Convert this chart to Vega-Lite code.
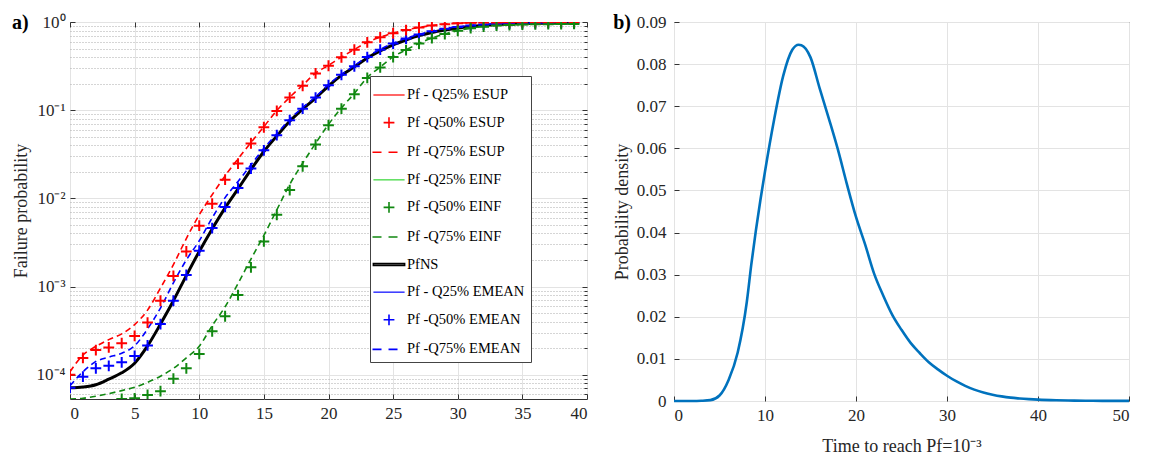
{
  "$schema": "https://vega.github.io/schema/vega-lite/v6.json",
  "padding": {"left": 11, "top": 12, "right": 5, "bottom": 5},
  "spacing": 24,
  "datasets": {
    "curves": [
      {"s":"NS","t":0,"p":7.1e-5},{"s":"NS","t":1,"p":7.25e-5},{"s":"NS","t":2,"p":7.7e-5},{"s":"NS","t":3,"p":8.9e-5},{"s":"NS","t":4,"p":1.05e-4},{"s":"NS","t":5,"p":1.35e-4},{"s":"NS","t":6,"p":2.12e-4},{"s":"NS","t":7,"p":3.75e-4},{"s":"NS","t":8,"p":6.9e-4},{"s":"NS","t":9,"p":1.33e-3},{"s":"NS","t":10,"p":2.5e-3},{"s":"NS","t":11,"p":4.5e-3},{"s":"NS","t":12,"p":7.8e-3},{"s":"NS","t":13,"p":1.28e-2},{"s":"NS","t":14,"p":2.12e-2},{"s":"NS","t":15,"p":3.4e-2},{"s":"NS","t":16,"p":5.1e-2},{"s":"NS","t":17,"p":7.5e-2},{"s":"NS","t":18,"p":0.103},{"s":"NS","t":19,"p":0.137},{"s":"NS","t":20,"p":0.188},{"s":"NS","t":21,"p":0.248},{"s":"NS","t":22,"p":0.31},{"s":"NS","t":23,"p":0.39},{"s":"NS","t":24,"p":0.47},{"s":"NS","t":25,"p":0.55},{"s":"NS","t":26,"p":0.625},{"s":"NS","t":27,"p":0.7},{"s":"NS","t":28,"p":0.76},{"s":"NS","t":29,"p":0.81},{"s":"NS","t":30,"p":0.855},{"s":"NS","t":31,"p":0.89},{"s":"NS","t":32,"p":0.915},{"s":"NS","t":33,"p":0.935},{"s":"NS","t":34,"p":0.95},{"s":"NS","t":35,"p":0.96},{"s":"NS","t":36,"p":0.966},{"s":"NS","t":37,"p":0.97},{"s":"NS","t":38,"p":0.973},{"s":"NS","t":39,"p":0.975},

      {"s":"S25","t":0,"p":7.1e-5},{"s":"S25","t":1,"p":7.25e-5},{"s":"S25","t":2,"p":7.7e-5},{"s":"S25","t":3,"p":8.9e-5},{"s":"S25","t":4,"p":1.05e-4},{"s":"S25","t":5,"p":1.35e-4},{"s":"S25","t":6,"p":2.12e-4},{"s":"S25","t":7,"p":3.75e-4},{"s":"S25","t":8,"p":6.9e-4},{"s":"S25","t":9,"p":1.33e-3},{"s":"S25","t":10,"p":2.5e-3},{"s":"S25","t":11,"p":4.5e-3},{"s":"S25","t":12,"p":7.8e-3},{"s":"S25","t":13,"p":1.28e-2},{"s":"S25","t":14,"p":2.12e-2},{"s":"S25","t":15,"p":3.4e-2},{"s":"S25","t":16,"p":5.1e-2},{"s":"S25","t":17,"p":7.5e-2},{"s":"S25","t":18,"p":0.103},{"s":"S25","t":19,"p":0.137},{"s":"S25","t":20,"p":0.188},{"s":"S25","t":21,"p":0.248},{"s":"S25","t":22,"p":0.31},{"s":"S25","t":23,"p":0.39},{"s":"S25","t":24,"p":0.47},{"s":"S25","t":25,"p":0.55},{"s":"S25","t":26,"p":0.625},{"s":"S25","t":27,"p":0.7},{"s":"S25","t":28,"p":0.76},{"s":"S25","t":29,"p":0.81},{"s":"S25","t":30,"p":0.855},{"s":"S25","t":31,"p":0.89},{"s":"S25","t":32,"p":0.915},{"s":"S25","t":33,"p":0.935},{"s":"S25","t":34,"p":0.95},{"s":"S25","t":35,"p":0.96},{"s":"S25","t":36,"p":0.966},{"s":"S25","t":37,"p":0.97},{"s":"S25","t":38,"p":0.973},{"s":"S25","t":39,"p":0.975},

      {"s":"I25","t":0,"p":7.1e-5},{"s":"I25","t":1,"p":7.25e-5},{"s":"I25","t":2,"p":7.7e-5},{"s":"I25","t":3,"p":8.9e-5},{"s":"I25","t":4,"p":1.05e-4},{"s":"I25","t":5,"p":1.35e-4},{"s":"I25","t":6,"p":2.12e-4},{"s":"I25","t":7,"p":3.75e-4},{"s":"I25","t":8,"p":6.9e-4},{"s":"I25","t":9,"p":1.33e-3},{"s":"I25","t":10,"p":2.5e-3},{"s":"I25","t":11,"p":4.5e-3},{"s":"I25","t":12,"p":7.8e-3},{"s":"I25","t":13,"p":1.28e-2},{"s":"I25","t":14,"p":2.12e-2},{"s":"I25","t":15,"p":3.4e-2},{"s":"I25","t":16,"p":5.1e-2},{"s":"I25","t":17,"p":7.5e-2},{"s":"I25","t":18,"p":0.103},{"s":"I25","t":19,"p":0.137},{"s":"I25","t":20,"p":0.188},{"s":"I25","t":21,"p":0.248},{"s":"I25","t":22,"p":0.31},{"s":"I25","t":23,"p":0.39},{"s":"I25","t":24,"p":0.47},{"s":"I25","t":25,"p":0.55},{"s":"I25","t":26,"p":0.625},{"s":"I25","t":27,"p":0.7},{"s":"I25","t":28,"p":0.76},{"s":"I25","t":29,"p":0.81},{"s":"I25","t":30,"p":0.855},{"s":"I25","t":31,"p":0.89},{"s":"I25","t":32,"p":0.915},{"s":"I25","t":33,"p":0.935},{"s":"I25","t":34,"p":0.95},{"s":"I25","t":35,"p":0.96},{"s":"I25","t":36,"p":0.966},{"s":"I25","t":37,"p":0.97},{"s":"I25","t":38,"p":0.973},{"s":"I25","t":39,"p":0.975},

      {"s":"M25","t":0,"p":7.1e-5},{"s":"M25","t":1,"p":7.25e-5},{"s":"M25","t":2,"p":7.7e-5},{"s":"M25","t":3,"p":8.9e-5},{"s":"M25","t":4,"p":1.05e-4},{"s":"M25","t":5,"p":1.35e-4},{"s":"M25","t":6,"p":2.12e-4},{"s":"M25","t":7,"p":3.75e-4},{"s":"M25","t":8,"p":6.9e-4},{"s":"M25","t":9,"p":1.33e-3},{"s":"M25","t":10,"p":2.5e-3},{"s":"M25","t":11,"p":4.5e-3},{"s":"M25","t":12,"p":7.8e-3},{"s":"M25","t":13,"p":1.28e-2},{"s":"M25","t":14,"p":2.12e-2},{"s":"M25","t":15,"p":3.4e-2},{"s":"M25","t":16,"p":5.1e-2},{"s":"M25","t":17,"p":7.5e-2},{"s":"M25","t":18,"p":0.103},{"s":"M25","t":19,"p":0.137},{"s":"M25","t":20,"p":0.188},{"s":"M25","t":21,"p":0.248},{"s":"M25","t":22,"p":0.31},{"s":"M25","t":23,"p":0.39},{"s":"M25","t":24,"p":0.47},{"s":"M25","t":25,"p":0.55},{"s":"M25","t":26,"p":0.625},{"s":"M25","t":27,"p":0.7},{"s":"M25","t":28,"p":0.76},{"s":"M25","t":29,"p":0.81},{"s":"M25","t":30,"p":0.855},{"s":"M25","t":31,"p":0.89},{"s":"M25","t":32,"p":0.915},{"s":"M25","t":33,"p":0.935},{"s":"M25","t":34,"p":0.95},{"s":"M25","t":35,"p":0.96},{"s":"M25","t":36,"p":0.966},{"s":"M25","t":37,"p":0.97},{"s":"M25","t":38,"p":0.973},{"s":"M25","t":39,"p":0.975},

      {"s":"M50","t":0,"p":7.1e-5},{"s":"M50","t":1,"p":9.5e-5},{"s":"M50","t":2,"p":1.18e-4},{"s":"M50","t":3,"p":1.26e-4},{"s":"M50","t":4,"p":1.38e-4},{"s":"M50","t":5,"p":1.63e-4},{"s":"M50","t":6,"p":2.15e-4},{"s":"M50","t":7,"p":3.75e-4},{"s":"M50","t":8,"p":6.9e-4},{"s":"M50","t":9,"p":1.35e-3},{"s":"M50","t":10,"p":2.55e-3},{"s":"M50","t":11,"p":4.6e-3},{"s":"M50","t":12,"p":8.0e-3},{"s":"M50","t":13,"p":1.31e-2},{"s":"M50","t":14,"p":2.18e-2},{"s":"M50","t":15,"p":3.5e-2},{"s":"M50","t":16,"p":5.2e-2},{"s":"M50","t":17,"p":7.7e-2},{"s":"M50","t":18,"p":0.104},{"s":"M50","t":19,"p":0.139},{"s":"M50","t":20,"p":0.192},{"s":"M50","t":21,"p":0.252},{"s":"M50","t":22,"p":0.315},{"s":"M50","t":23,"p":0.4},{"s":"M50","t":24,"p":0.485},{"s":"M50","t":25,"p":0.57},{"s":"M50","t":26,"p":0.65},{"s":"M50","t":27,"p":0.72},{"s":"M50","t":28,"p":0.785},{"s":"M50","t":29,"p":0.84},{"s":"M50","t":30,"p":0.88},{"s":"M50","t":31,"p":0.91},{"s":"M50","t":32,"p":0.935},{"s":"M50","t":33,"p":0.95},{"s":"M50","t":34,"p":0.96},{"s":"M50","t":35,"p":0.967},{"s":"M50","t":36,"p":0.972},{"s":"M50","t":37,"p":0.975},{"s":"M50","t":38,"p":0.978},{"s":"M50","t":39,"p":0.98},

      {"s":"M75","t":0,"p":7.5e-5},{"s":"M75","t":1,"p":1.08e-4},{"s":"M75","t":2,"p":1.41e-4},{"s":"M75","t":3,"p":1.58e-4},{"s":"M75","t":4,"p":1.75e-4},{"s":"M75","t":5,"p":2.13e-4},{"s":"M75","t":6,"p":3.3e-4},{"s":"M75","t":7,"p":5.7e-4},{"s":"M75","t":8,"p":1.1e-3},{"s":"M75","t":9,"p":2.0e-3},{"s":"M75","t":10,"p":3.3e-3},{"s":"M75","t":11,"p":6.0e-3},{"s":"M75","t":12,"p":1.02e-2},{"s":"M75","t":13,"p":1.55e-2},{"s":"M75","t":14,"p":2.4e-2},{"s":"M75","t":15,"p":3.7e-2},{"s":"M75","t":16,"p":5.4e-2},{"s":"M75","t":17,"p":7.9e-2},{"s":"M75","t":18,"p":0.107},{"s":"M75","t":19,"p":0.142},{"s":"M75","t":20,"p":0.195},{"s":"M75","t":21,"p":0.255},{"s":"M75","t":22,"p":0.32},{"s":"M75","t":23,"p":0.405},{"s":"M75","t":24,"p":0.49},{"s":"M75","t":25,"p":0.575},{"s":"M75","t":26,"p":0.655},{"s":"M75","t":27,"p":0.725},{"s":"M75","t":28,"p":0.79},{"s":"M75","t":29,"p":0.845},{"s":"M75","t":30,"p":0.885},{"s":"M75","t":31,"p":0.915},{"s":"M75","t":32,"p":0.94},{"s":"M75","t":33,"p":0.955},{"s":"M75","t":34,"p":0.963},{"s":"M75","t":35,"p":0.97},{"s":"M75","t":36,"p":0.974},{"s":"M75","t":37,"p":0.977},{"s":"M75","t":38,"p":0.979},{"s":"M75","t":39,"p":0.981},

      {"s":"S50","t":0,"p":1.0e-4},{"s":"S50","t":1,"p":1.55e-4},{"s":"S50","t":2,"p":1.9e-4},{"s":"S50","t":3,"p":2.04e-4},{"s":"S50","t":4,"p":2.28e-4},{"s":"S50","t":5,"p":2.75e-4},{"s":"S50","t":6,"p":3.9e-4},{"s":"S50","t":7,"p":6.9e-4},{"s":"S50","t":8,"p":1.32e-3},{"s":"S50","t":9,"p":2.5e-3},{"s":"S50","t":10,"p":4.9e-3},{"s":"S50","t":11,"p":8.7e-3},{"s":"S50","t":12,"p":1.63e-2},{"s":"S50","t":13,"p":2.48e-2},{"s":"S50","t":14,"p":4.2e-2},{"s":"S50","t":15,"p":6.4e-2},{"s":"S50","t":16,"p":9.8e-2},{"s":"S50","t":17,"p":0.139},{"s":"S50","t":18,"p":0.189},{"s":"S50","t":19,"p":0.261},{"s":"S50","t":20,"p":0.319},{"s":"S50","t":21,"p":0.398},{"s":"S50","t":22,"p":0.485},{"s":"S50","t":23,"p":0.588},{"s":"S50","t":24,"p":0.67},{"s":"S50","t":25,"p":0.745},{"s":"S50","t":26,"p":0.81},{"s":"S50","t":27,"p":0.866},{"s":"S50","t":28,"p":0.91},{"s":"S50","t":29,"p":0.945},{"s":"S50","t":30,"p":0.97},{"s":"S50","t":31,"p":0.98},{"s":"S50","t":32,"p":0.987},{"s":"S50","t":33,"p":0.99},{"s":"S50","t":34,"p":0.992},{"s":"S50","t":35,"p":0.994},{"s":"S50","t":36,"p":0.995},{"s":"S50","t":37,"p":0.996},{"s":"S50","t":38,"p":0.997},{"s":"S50","t":39,"p":0.997},

      {"s":"S75","t":0,"p":1.08e-4},{"s":"S75","t":1,"p":1.67e-4},{"s":"S75","t":2,"p":2.09e-4},{"s":"S75","t":3,"p":2.5e-4},{"s":"S75","t":4,"p":2.9e-4},{"s":"S75","t":5,"p":3.7e-4},{"s":"S75","t":6,"p":5.4e-4},{"s":"S75","t":7,"p":9.6e-4},{"s":"S75","t":8,"p":1.77e-3},{"s":"S75","t":9,"p":3.5e-3},{"s":"S75","t":10,"p":6.5e-3},{"s":"S75","t":11,"p":1.1e-2},{"s":"S75","t":12,"p":1.8e-2},{"s":"S75","t":13,"p":2.8e-2},{"s":"S75","t":14,"p":4.3e-2},{"s":"S75","t":15,"p":6.5e-2},{"s":"S75","t":16,"p":9.9e-2},{"s":"S75","t":17,"p":0.14},{"s":"S75","t":18,"p":0.192},{"s":"S75","t":19,"p":0.263},{"s":"S75","t":20,"p":0.322},{"s":"S75","t":21,"p":0.4},{"s":"S75","t":22,"p":0.488},{"s":"S75","t":23,"p":0.59},{"s":"S75","t":24,"p":0.672},{"s":"S75","t":25,"p":0.748},{"s":"S75","t":26,"p":0.812},{"s":"S75","t":27,"p":0.868},{"s":"S75","t":28,"p":0.912},{"s":"S75","t":29,"p":0.946},{"s":"S75","t":30,"p":0.97},{"s":"S75","t":31,"p":0.98},{"s":"S75","t":32,"p":0.987},{"s":"S75","t":33,"p":0.99},{"s":"S75","t":34,"p":0.992},{"s":"S75","t":35,"p":0.994},{"s":"S75","t":36,"p":0.995},{"s":"S75","t":37,"p":0.996},{"s":"S75","t":38,"p":0.997},{"s":"S75","t":39,"p":0.997},

      {"s":"I50","t":0,"p":3.5e-5},{"s":"I50","t":1,"p":3.8e-5},{"s":"I50","t":2,"p":4.1e-5},{"s":"I50","t":3,"p":4.4e-5},{"s":"I50","t":4,"p":5.3e-5},{"s":"I50","t":5,"p":5.4e-5},{"s":"I50","t":6,"p":5.9e-5},{"s":"I50","t":7,"p":6.5e-5},{"s":"I50","t":8,"p":9.0e-5},{"s":"I50","t":9,"p":1.18e-4},{"s":"I50","t":10,"p":1.72e-4},{"s":"I50","t":11,"p":3.1e-4},{"s":"I50","t":12,"p":4.6e-4},{"s":"I50","t":13,"p":8.0e-4},{"s":"I50","t":14,"p":1.65e-3},{"s":"I50","t":15,"p":3.25e-3},{"s":"I50","t":16,"p":6.5e-3},{"s":"I50","t":17,"p":1.24e-2},{"s":"I50","t":18,"p":2.31e-2},{"s":"I50","t":19,"p":4.07e-2},{"s":"I50","t":20,"p":6.75e-2},{"s":"I50","t":21,"p":0.104},{"s":"I50","t":22,"p":0.152},{"s":"I50","t":23,"p":0.232},{"s":"I50","t":24,"p":0.305},{"s":"I50","t":25,"p":0.4},{"s":"I50","t":26,"p":0.48},{"s":"I50","t":27,"p":0.57},{"s":"I50","t":28,"p":0.655},{"s":"I50","t":29,"p":0.73},{"s":"I50","t":30,"p":0.795},{"s":"I50","t":31,"p":0.85},{"s":"I50","t":32,"p":0.885},{"s":"I50","t":33,"p":0.91},{"s":"I50","t":34,"p":0.925},{"s":"I50","t":35,"p":0.935},{"s":"I50","t":36,"p":0.942},{"s":"I50","t":37,"p":0.946},{"s":"I50","t":38,"p":0.949},{"s":"I50","t":39,"p":0.95},

      {"s":"I75","t":0,"p":5.3e-5},{"s":"I75","t":1,"p":5.4e-5},{"s":"I75","t":2,"p":5.7e-5},{"s":"I75","t":3,"p":6.1e-5},{"s":"I75","t":4,"p":6.6e-5},{"s":"I75","t":5,"p":7.2e-5},{"s":"I75","t":6,"p":8.2e-5},{"s":"I75","t":7,"p":9.6e-5},{"s":"I75","t":8,"p":1.18e-4},{"s":"I75","t":9,"p":1.55e-4},{"s":"I75","t":10,"p":2.1e-4},{"s":"I75","t":11,"p":3.6e-4},{"s":"I75","t":12,"p":5.9e-4},{"s":"I75","t":13,"p":1.08e-3},{"s":"I75","t":14,"p":2.05e-3},{"s":"I75","t":15,"p":3.8e-3},{"s":"I75","t":16,"p":7.4e-3},{"s":"I75","t":17,"p":1.44e-2},{"s":"I75","t":18,"p":2.5e-2},{"s":"I75","t":19,"p":4.2e-2},{"s":"I75","t":20,"p":6.9e-2},{"s":"I75","t":21,"p":0.106},{"s":"I75","t":22,"p":0.155},{"s":"I75","t":23,"p":0.235},{"s":"I75","t":24,"p":0.308},{"s":"I75","t":25,"p":0.403},{"s":"I75","t":26,"p":0.483},{"s":"I75","t":27,"p":0.572},{"s":"I75","t":28,"p":0.657},{"s":"I75","t":29,"p":0.732},{"s":"I75","t":30,"p":0.797},{"s":"I75","t":31,"p":0.852},{"s":"I75","t":32,"p":0.887},{"s":"I75","t":33,"p":0.912},{"s":"I75","t":34,"p":0.927},{"s":"I75","t":35,"p":0.937},{"s":"I75","t":36,"p":0.944},{"s":"I75","t":37,"p":0.948},{"s":"I75","t":38,"p":0.951},{"s":"I75","t":39,"p":0.952}
    ],
    "density": [
      {"t":0,"v":0},{"t":1,"v":0},{"t":2,"v":0},{"t":3,"v":0.00005},{"t":4,"v":0.0002},{"t":5,"v":0.0013},{"t":6,"v":0.005},{"t":7,"v":0.0115},{"t":8,"v":0.0235},{"t":8.5,"v":0.0325},{"t":9,"v":0.0405},{"t":9.5,"v":0.0478},{"t":10,"v":0.0545},{"t":11,"v":0.0668},{"t":12,"v":0.0772},{"t":13,"v":0.0834},{"t":13.7,"v":0.0846},{"t":14,"v":0.0845},{"t":15,"v":0.0816},{"t":16,"v":0.0743},{"t":17,"v":0.0672},{"t":18,"v":0.0598},{"t":19,"v":0.0515},{"t":20,"v":0.0437},{"t":21,"v":0.0372},{"t":22,"v":0.0302},{"t":23,"v":0.025},{"t":24,"v":0.0204},{"t":25,"v":0.0169},{"t":26,"v":0.0138},{"t":27,"v":0.0114},{"t":28,"v":0.0092},{"t":29,"v":0.0075},{"t":30,"v":0.006},{"t":31,"v":0.0047},{"t":32,"v":0.0036},{"t":33,"v":0.0027},{"t":34,"v":0.002},{"t":35,"v":0.0015},{"t":36,"v":0.0011},{"t":37,"v":0.0008},{"t":38,"v":0.0006},{"t":39,"v":0.00045},{"t":40,"v":0.00033},{"t":42,"v":0.00018},{"t":44,"v":0.0001},{"t":46,"v":0.00005},{"t":48,"v":0.00003},{"t":50,"v":0.00002}
    ]
  },
  "hconcat": [
    {
      "width": 517,
      "height": 377,
      "title": {"text": "a)", "anchor": "start", "frame": "bounds", "dy": 20, "offset": 0},
      "data": {"name": "curves"},
      "layer": [
        {
          "transform": [{"filter": {"field": "s", "oneOf": ["S25", "I25", "M25"]}}],
          "mark": {"type": "line", "strokeWidth": 1, "clip": true, "interpolate": "monotone"},
          "encoding": {
            "x": {"field": "t", "type": "quantitative", "scale": {"domain": [0, 40], "nice": false},
              "axis": {"values": [0, 5, 10, 15, 20, 25, 30, 35, 40], "title": null, "grid": true, "tickSize": -5, "labelPadding": 11, "labelFont": "Liberation Serif", "labelFontSize": 17}},
            "y": {"field": "p", "type": "quantitative", "scale": {"type": "log", "domain": [5.3e-5, 1], "nice": false},
              "axis": {"values": [0.0001, 0.001, 0.01, 0.1, 1], "grid": true, "tickSize": -5, "labelPadding": 10, "title": "Failure probability", "titlePadding": 6, "labelFont": "Liberation Serif", "labelFontSize": 17,
                "labelExpr": "datum.value >= 0.5 ? '10⁰' : datum.value >= 0.05 ? '10⁻¹' : datum.value >= 0.005 ? '10⁻²' : datum.value >= 0.0005 ? '10⁻³' : '10⁻⁴'"}},
            "stroke": {"field": "s", "type": "nominal", "legend": null,
              "scale": {"domain": ["NS", "S25", "I25", "M25", "S75", "I75", "M75"],
                "range": ["#000000", "#ff4040", "#66e066", "#4040ff", "#ff0000", "#118811", "#0000ff"]}}
          }
        },
        {
          "transform": [{"filter": {"field": "s", "equal": "NS"}}],
          "mark": {"type": "line", "strokeWidth": 3, "clip": true, "interpolate": "monotone"},
          "encoding": {
            "x": {"field": "t", "type": "quantitative",
              "axis": {"orient": "top", "values": [0, 5, 10, 15, 20, 25, 30, 35, 40], "labels": false, "title": null, "grid": false, "tickSize": -5}},
            "y": {"field": "p", "type": "quantitative",
              "axis": {"values": [6e-5, 7e-5, 8e-5, 9e-5, 2e-4, 3e-4, 4e-4, 5e-4, 6e-4, 7e-4, 8e-4, 9e-4, 2e-3, 3e-3, 4e-3, 5e-3, 6e-3, 7e-3, 8e-3, 9e-3, 2e-2, 3e-2, 4e-2, 5e-2, 6e-2, 7e-2, 8e-2, 9e-2, 0.2, 0.3, 0.4, 0.5, 0.6, 0.7, 0.8, 0.9],
                "labels": false, "title": null, "grid": true, "gridDash": [1, 2], "gridColor": "#ababab", "tickSize": -3}},
            "stroke": {"field": "s", "type": "nominal", "legend": null}
          }
        },
        {
          "transform": [{"filter": {"field": "s", "oneOf": ["S75", "I75", "M75"]}}],
          "mark": {"type": "line", "strokeWidth": 1.6, "strokeDash": [6, 4], "clip": true, "interpolate": "monotone"},
          "encoding": {
            "x": {"field": "t", "type": "quantitative", "axis": null},
            "y": {"field": "p", "type": "quantitative",
              "axis": {"orient": "right", "values": [0.0001, 0.001, 0.01, 0.1, 1], "labels": false, "title": null, "grid": false, "tickSize": -5}},
            "stroke": {"field": "s", "type": "nominal", "legend": null}
          }
        },
        {
          "transform": [{"filter": {"field": "s", "oneOf": ["S50", "I50", "M50"]}}],
          "mark": {"type": "point", "filled": false, "strokeWidth": 2, "size": 576, "opacity": 1, "clip": true},
          "encoding": {
            "x": {"field": "t", "type": "quantitative", "axis": null},
            "y": {"field": "p", "type": "quantitative", "axis": null},
            "color": {"field": "s", "type": "nominal",
              "scale": {"domain": ["S25", "S50", "S75", "I25", "I50", "I75", "NS", "M25", "M50", "M75"],
                "range": ["#ff4040", "#ff0000", "#ff0000", "#66e066", "#118811", "#118811", "#000000", "#4040ff", "#0000ff", "#0000ff"]},
              "legend": {"title": null, "orient": "none", "legendX": 300, "legendY": 54, "symbolSize": 576, "symbolStrokeWidth": 1.6, "rowPadding": 7.6, "padding": 6, "labelFontSize": 14.5, "labelOffset": 5, "labelFont": "Liberation Serif", "labelColor": "#000000", "strokeColor": "#444444", "fillColor": "#ffffff",
                "labelExpr": "datum.value == 'S25' ? 'Pf - Q25% ESUP' : datum.value == 'S50' ? 'Pf -Q50% ESUP' : datum.value == 'S75' ? 'Pf -Q75% ESUP' : datum.value == 'I25' ? 'Pf -Q25% EINF' : datum.value == 'I50' ? 'Pf -Q50% EINF' : datum.value == 'I75' ? 'Pf -Q75% EINF' : datum.value == 'NS' ? 'PfNS' : datum.value == 'M25' ? 'Pf - Q25% EMEAN' : datum.value == 'M50' ? 'Pf -Q50% EMEAN' : 'Pf -Q75% EMEAN'"}},
            "shape": {"field": "s", "type": "nominal",
              "scale": {"domain": ["S25", "S50", "S75", "I25", "I50", "I75", "NS", "M25", "M50", "M75"],
                "range": ["M-1.3,0H1.3", "M-0.45,0H0.45M0,-0.45V0.45", "M-1.375,0H-0.625M-0.04,0H0.71", "M-1.3,0H1.3", "M-0.45,0H0.45M0,-0.45V0.45", "M-1.375,0H-0.625M-0.04,0H0.71", "M-1.3,-0.08H1.3V0.08H-1.3Z", "M-1.3,0H1.3", "M-0.45,0H0.45M0,-0.45V0.45", "M-1.375,0H-0.625M-0.04,0H0.71"]},
              "legend": {"title": null, "orient": "none", "legendX": 300, "legendY": 54, "symbolSize": 576, "symbolStrokeWidth": 1.6, "rowPadding": 7.6, "padding": 6, "labelFontSize": 14.5, "labelOffset": 5, "labelFont": "Liberation Serif", "labelColor": "#000000", "strokeColor": "#444444", "fillColor": "#ffffff",
                "labelExpr": "datum.value == 'S25' ? 'Pf - Q25% ESUP' : datum.value == 'S50' ? 'Pf -Q50% ESUP' : datum.value == 'S75' ? 'Pf -Q75% ESUP' : datum.value == 'I25' ? 'Pf -Q25% EINF' : datum.value == 'I50' ? 'Pf -Q50% EINF' : datum.value == 'I75' ? 'Pf -Q75% EINF' : datum.value == 'NS' ? 'PfNS' : datum.value == 'M25' ? 'Pf - Q25% EMEAN' : datum.value == 'M50' ? 'Pf -Q50% EMEAN' : 'Pf -Q75% EMEAN'"}}
          }
        }
      ],
      "resolve": {"axis": {"x": "independent", "y": "independent"}}
    },
    {
      "width": 455,
      "height": 379,
      "title": {"text": "b)", "anchor": "start", "frame": "bounds", "dy": 20, "offset": 0},
      "data": {"name": "density"},
      "mark": {"type": "line", "color": "#0072BD", "strokeWidth": 2.6, "interpolate": "monotone"},
      "encoding": {
        "x": {"field": "t", "type": "quantitative", "scale": {"domain": [0, 50], "nice": false},
          "axis": {"values": [0, 10, 20, 30, 40, 50], "title": "Time to reach Pf=10⁻³", "grid": true, "tickSize": -5, "labelPadding": 11, "titlePadding": 14, "labelFont": "Liberation Serif", "labelFontSize": 17}},
        "y": {"field": "v", "type": "quantitative", "scale": {"domain": [0, 0.09], "nice": false},
          "axis": {"values": [0, 0.01, 0.02, 0.03, 0.04, 0.05, 0.06, 0.07, 0.08, 0.09], "format": ".2~f", "title": "Probability density", "grid": true, "tickSize": -5, "labelPadding": 13, "titlePadding": 5, "labelFont": "Liberation Serif", "labelFontSize": 17}}
      }
    }
  ],
  "config": {
    "font": "Liberation Serif",
    "view": {"stroke": "#333333", "strokeWidth": 1},
    "axis": {"labelFont": "Liberation Serif", "labelFontSize": 17, "labelColor": "#262626", "titleFont": "Liberation Serif", "titleFontSize": 18, "titleFontWeight": "normal", "titleColor": "#262626", "gridColor": "#e3e3e3", "gridWidth": 1, "tickColor": "#333333", "domain": false},
    "legend": {"labelFont": "Liberation Serif"},
    "title": {"font": "Liberation Serif", "fontSize": 20, "fontWeight": "bold", "color": "#000000"}
  }
}
